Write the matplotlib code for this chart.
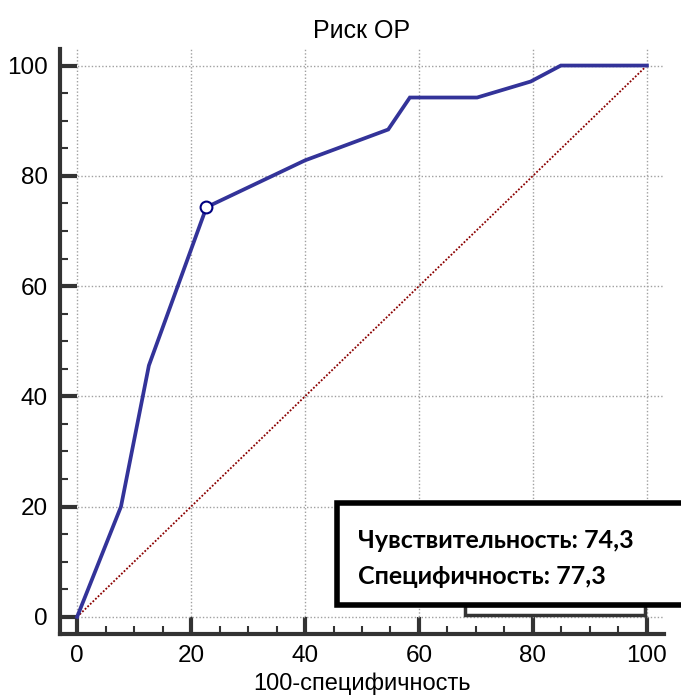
import matplotlib.pyplot as plt
from matplotlib.patches import Rectangle
from matplotlib.ticker import MultipleLocator

# ROC points
fpr = [0, 7.7, 12.6, 22.7, 40.0, 54.6, 58.4, 70.2, 79.6, 84.9, 100]
tpr = [0, 20.0, 45.6, 74.3, 82.8, 88.4, 94.2, 94.2, 97.1, 100, 100]
cut_x, cut_y = 22.7, 74.3
sens_text = "Чувствительность: 74,3"
spec_text = "Специфичность: 77,3"

plt.rcParams["font.family"] = ["Liberation Sans", "DejaVu Sans"]

fig = plt.figure(figsize=(6.81, 6.99), dpi=100)
ax = fig.add_axes([60 / 681, 65 / 699, 604 / 681, 585 / 699])
ax.set_xlim(-3, 103)
ax.set_ylim(-3.1, 103)

ax.grid(True, which="major", color="#a0a0a0", linestyle=(0, (1, 1.5)), linewidth=1)
ax.plot([0, 100], [0, 100], color="#8b0000", linestyle=(0, (1, 1)), linewidth=1.3)
ax.plot(fpr, tpr, color="#333399", linewidth=2.7, solid_joinstyle="miter")
ax.plot([cut_x], [cut_y], marker="o", markersize=8.5, markerfacecolor="white",
        markeredgecolor="#000080", markeredgewidth=1.5, zorder=5)

ax.xaxis.set_major_locator(MultipleLocator(20))
ax.xaxis.set_minor_locator(MultipleLocator(5))
ax.yaxis.set_major_locator(MultipleLocator(20))
ax.yaxis.set_minor_locator(MultipleLocator(5))

for side in ("top", "right"):
    ax.spines[side].set_visible(False)
for side in ("left", "bottom"):
    ax.spines[side].set_linewidth(3)
    ax.spines[side].set_color("#333333")

ax.tick_params(which="major", direction="in", length=12.5, width=3, color="#333333",
               labelsize=17.5)
ax.tick_params(which="minor", direction="in", length=5.5, width=1.5, color="#333333")
ax.tick_params(axis="x", which="major", pad=8)
ax.tick_params(axis="y", which="major", pad=9)

ax.set_title("Риск ОР", fontsize=18, pad=8)
ax.set_xlabel("100-специфичность", fontsize=17, labelpad=4)

# partly hidden legend frame behind the annotation box
fig.patches.append(Rectangle((465 / 681, (699 - 615) / 699), 180 / 681, 10 / 699,
                             transform=fig.transFigure, facecolor="white",
                             edgecolor="#333333", linewidth=2.5))
# annotation box
fig.patches.append(Rectangle((337 / 681, (699 - 605) / 699), 360 / 681, 102 / 699,
                             transform=fig.transFigure, facecolor="white",
                             edgecolor="black", linewidth=4))
fig.text(358 / 681, (699 - 548) / 699, sens_text, fontsize=18, fontweight="bold",
         family=["Lato", "DejaVu Sans"])
fig.text(358 / 681, (699 - 584) / 699, spec_text, fontsize=18, fontweight="bold",
         family=["Lato", "DejaVu Sans"])

fig.savefig("out.png", dpi=100)
